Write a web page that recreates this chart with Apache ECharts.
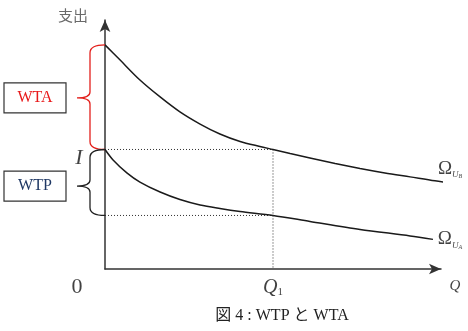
<!DOCTYPE html>
<html>
<head>
<meta charset="utf-8">
<script src="https://cdn.jsdelivr.net/npm/echarts@6/dist/echarts.min.js"></script>
<style>
  html, body { margin: 0; padding: 0; background: #fff; }
  #main { width: 468px; height: 331px; }
</style>
</head>
<body>
<div id="main"></div>
<script>
// curves (Q, expenditure)
var curveUB = [[0, 9.0], [0.45, 8.39], [1.04, 7.59], [1.64, 6.91], [2.23, 6.31], [2.83, 5.82], [3.42, 5.42], [4.02, 5.12], [4.61, 4.92], [5.0, 4.8], [5.51, 4.64], [6.1, 4.46], [6.85, 4.24], [7.59, 4.04], [8.33, 3.86], [9.08, 3.70], [9.82, 3.54], [10.42, 3.43]];
var curveUA = [[0, 4.8], [0.24, 4.38], [0.65, 3.86], [1.04, 3.49], [1.64, 3.09], [2.23, 2.79], [2.83, 2.57], [3.42, 2.43], [4.02, 2.31], [5.0, 2.15], [6.1, 1.91], [7.59, 1.59], [9.08, 1.33], [9.76, 1.19]];
var q1 = 5.0;
var incomeI = 4.8;
var lowAtQ1 = 2.15;
// braces: [top, bottom, tip]
var braceRanges = [[9.0, 4.8, 6.87], [4.8, 2.15, 3.33]];
var braceLabels = ['WTA', 'WTP'];

var serif = "'Liberation Serif', 'DejaVu Serif', serif";
var cjk = "'Noto Sans CJK JP', sans-serif";

(function() {
  'use strict';

  var chart = echarts.init(document.getElementById('main'), null, { renderer: 'canvas' });

  function axis() {
    return {
      type: 'value', min: 0, max: 10,
      axisLine: { show: true, onZero: false, symbol: ['none', 'arrow'], symbolSize: [8, 12], lineStyle: { color: '#333', width: 1.5 } },
      axisTick: { show: false },
      axisLabel: { show: false },
      splitLine: { show: false }
    };
  }

  var braceColors = ['#e3201c', '#222'];
  var textColors = ['#e8191a', '#1f3864'];

  function renderBrace(params, api) {
    var top = api.coord([0, api.value(0)]);
    var bot = api.coord([0, api.value(1)]);
    var tip = api.coord([0, api.value(2)]);
    var x0 = top[0], ty = top[1], by = bot[1], m = tip[1];
    var s = x0 - 15, t = x0 - 28;
    var d = 'M' + x0 + ' ' + ty + ' Q' + s + ' ' + ty + ' ' + s + ' ' + (ty + 8) +
      ' L' + s + ' ' + (m - 6) + ' Q' + s + ' ' + m + ' ' + t + ' ' + m +
      ' Q' + s + ' ' + m + ' ' + s + ' ' + (m + 6) +
      ' L' + s + ' ' + (by - 8) + ' Q' + s + ' ' + by + ' ' + x0 + ' ' + by;
    var i = params.dataIndex;
    return {
      type: 'group',
      children: [
        { type: 'path', shape: { pathData: d }, style: { stroke: braceColors[i], fill: 'none', lineWidth: 1.3 } },
        { type: 'rect', shape: { x: t - 73, y: m - 15, width: 62, height: 30 }, style: { stroke: '#333', fill: '#fff', lineWidth: 1.2 } },
        { type: 'text', x: t - 42, y: m, style: { text: braceLabels[i], fill: textColors[i], font: '16px ' + serif, align: 'center', verticalAlign: 'middle' } }
      ]
    };
  }

  var omegaRich = {
    o: { fontFamily: serif, fontSize: 19, color: '#111', lineHeight: 22 },
    u: { fontFamily: serif, fontSize: 9, fontStyle: 'italic', color: '#111', verticalAlign: 'bottom', padding: [11, 0, 0, 0] },
    b: { fontFamily: serif, fontSize: 6, fontStyle: 'italic', color: '#111', verticalAlign: 'bottom', padding: [13, 0, 0, 0] }
  };

  function txt(value, text, offset, style) {
    return {
      value: value,
      label: Object.assign({ show: true, formatter: text, position: 'inside', offset: offset, align: 'center', verticalAlign: 'middle' }, style)
    };
  }

  var dotted = { color: '#333', width: 1, type: [1, 2] };

  var option = {
    animation: false,
    grid: { left: 105, right: 27, top: 20, bottom: 62 },
    title: {
      text: '図 4 : WTP と WTA',
      left: 277, top: 303, textAlign: 'center',
      textStyle: { fontFamily: serif + ', ' + cjk, fontSize: 16, fontWeight: 'normal', color: '#222' }
    },
    xAxis: axis(),
    yAxis: axis(),
    series: [
      { type: 'line', data: curveUB, smooth: 0.3, symbol: 'none', clip: false, lineStyle: { color: '#1a1a1a', width: 1.5 }, z: 3 },
      { type: 'line', data: curveUA, smooth: 0.3, symbol: 'none', clip: false, lineStyle: { color: '#1a1a1a', width: 1.5 }, z: 3 },
      { type: 'line', data: [[0, incomeI], [q1, incomeI], [q1, 0]], symbol: 'none', lineStyle: dotted, z: 2 },
      { type: 'line', data: [[0, lowAtQ1], [q1, lowAtQ1]], symbol: 'none', lineStyle: dotted, z: 2 },
      { type: 'custom', renderItem: renderBrace, data: braceRanges, clip: false, z: 4 },
      {
        type: 'scatter', symbolSize: 0, clip: false, silent: true, z: 5,
        data: [
          txt([0, 10], '支出', [-32, -5], { fontFamily: cjk, fontSize: 15, color: '#444' }),
          txt([0, incomeI], 'I', [-26, 9], { fontFamily: serif, fontSize: 22, fontStyle: 'italic', color: '#111' }),
          txt([0, 0], '0', [-28, 18], { fontFamily: serif, fontSize: 22, color: '#111' }),
          txt([q1, 0], '{q|Q}{s|1}', [0, 19], { rich: { q: { fontFamily: serif, fontSize: 20, fontStyle: 'italic', color: '#111' }, s: { fontFamily: serif, fontSize: 11, color: '#111', verticalAlign: 'bottom', padding: [8, 0, 0, 0] } } }),
          txt([10, 0], 'Q', [14, 17], { fontFamily: serif, fontSize: 15, fontStyle: 'italic', color: '#111' }),
          txt(curveUB[curveUB.length - 1], '{o|Ω}{u|U}{b|B}', [-5, -15], { rich: omegaRich }),
          txt(curveUA[curveUA.length - 1], '{o|Ω}{u|U}{b|A}', [17, 0], { rich: omegaRich })
        ]
      }
    ]
  };

  chart.setOption(option);
})();
</script>
</body>
</html>
